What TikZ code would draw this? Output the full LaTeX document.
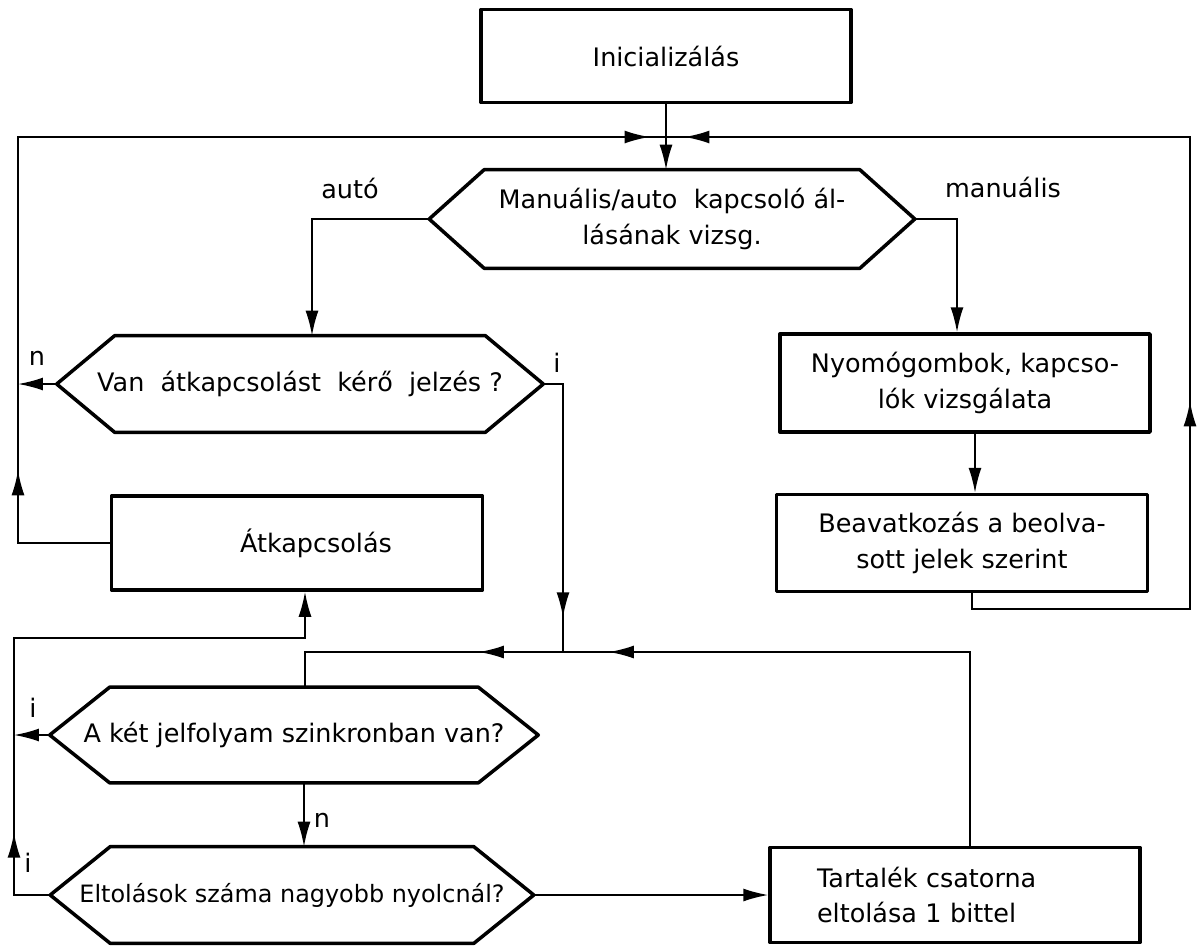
\documentclass[tikz,border=0pt]{standalone}
\usepackage{fontspec}
\setmainfont{DejaVu Sans}
\usetikzlibrary{arrows.meta}
\usetikzlibrary{decorations.markings}

% hexagonal decision frame round a node
\newcommand\hexframe[2]{%
  \draw[boxline] ([xshift=#2]#1.north west) -- ([xshift=-#2]#1.north east) -- (#1.east)
    -- ([xshift=-#2]#1.south east) -- ([xshift=#2]#1.south west) -- (#1.west) -- cycle;}

\begin{document}
\begin{tikzpicture}[x=0.02cm,y=-0.02cm,
    font=\fontsize{14.5}{20}\selectfont,
    >={Latex[length=5mm,width=2.6mm]},
    boxline/.style={line width=2pt,line join=round},
    box/.style={draw,boxline,minimum width=7.4cm,minimum height=1.9cm,align=center,inner sep=0pt},
    hex/.style={minimum width=9.7cm,minimum height=1.92cm,align=center,inner sep=0pt},
    line/.style={line width=1pt},
    arrow/.style={line,->},
    midtips/.style={postaction={decorate},decoration={markings,#1}}]
    \useasboundingbox (0,0) rectangle (1201,948);

    \node[box,minimum height=1.86cm] (init) at (666,56) {Inicializálás};
    \node[hex,minimum width=9.7cm,minimum height=1.96cm] (mode) at (672,219) {Manuális/auto\ \ kapcsoló ál-\\lásának vizsg.};
    \hexframe{mode}{1.1cm}
    \node[hex,minimum width=9.72cm] (req) at (300,384) {Van\ \ átkapcsolást\ \ kérő\ \ jelzés ?};
    \hexframe{req}{1.16cm}
    \node[box,minimum width=7.42cm,minimum height=1.88cm] (swt) at (297,543) {\hspace*{0.76cm}Átkapcsolás};
    \node[box,minimum height=1.96cm] (keys) at (965,383) {Nyomógombok, kapcso-\\lók vizsgálata};
    \node[box,minimum width=7.42cm,minimum height=1.94cm] (act) at (962,543) {Beavatkozás a beolva-\\sott jelek szerint};
    \node[hex,minimum width=9.76cm,minimum height=1.9cm] (sync) at (294,735) {A két jelfolyam szinkronban van?};
    \hexframe{sync}{1.2cm}
    \node[hex,minimum width=9.66cm,font=\fontsize{13.6}{20}\selectfont] (shifts) at (292,895) {Eltolások száma nagyobb nyolcnál?};
    \hexframe{shifts}{1.2cm}
    \node[box,align=left,text width=5.52cm] (spare) at (955,895) {Tartalék csatorna\\eltolása 1 bittel};

    \coordinate (merge) at (666,137);
    \coordinate (nw) at (18,137);
    \coordinate (ne) at (1190,137);
    \coordinate (join) at (563,652);
    \coordinate (lb) at (14,638);

    % branch labels
    \node (auto) at (350,188) {autó};
    \node (manual) at (1003,187) {manuális};
    \node (reqn) at (37,358) {n};
    \node (reqi) at (557,363) {i};
    \node (synci) at (33,708) {i};
    \node (syncn) at (322,820) {n};
    \node (shiftsi) at (28,863) {i};

    \draw[arrow] (init.south) -- (init.south |- mode.north);
    \draw[arrow] (mode.west) -| ([xshift=0.24cm]req.north);
    \draw[arrow] (mode.east) -| ([xshift=-0.16cm]keys.north);
    \draw[arrow] ([xshift=0.2cm]keys.south) -- ([xshift=0.2cm]keys.south |- act.north);
    \draw[line,midtips={mark=at position 8.84cm with {\arrow{>}},mark=at position 24.24cm with {\arrow{>}}}]
        ([xshift=0.2cm]act.south) -- ++(0,16) -| (ne) -- (merge);
    \draw[line,midtips={mark=at position 3.29cm with {\arrow{>}},mark=at position 22.59cm with {\arrow{>}}}]
        (swt.west) -| (nw) -- (merge);
    \draw[arrow] (req.west) -- (req.west -| nw);
    \draw[line,midtips={mark=at position 5.06cm with {\arrow{>}}}] (req.east) -| (join);
    \draw[line,midtips={mark=at position 11.1cm with {\arrow{>}},mark=at position 13.7cm with {\arrow{>}}}]
        ([xshift=0.3cm]spare.north) |- (join) -| ([xshift=0.22cm]sync.north);
    \draw[arrow] (sync.west) -- (sync.west -| lb);
    \draw[arrow,midtips={mark=at position 1.97cm with {\arrow{>}}}]
        (shifts.west) -| (lb) -| ([xshift=0.16cm]swt.south);
    \draw[arrow] ([xshift=0.2cm]sync.south) -- ([xshift=0.2cm]sync.south |- shifts.north);
    \draw[arrow] (shifts.east) -- (spare.west);
\end{tikzpicture}
\end{document}
